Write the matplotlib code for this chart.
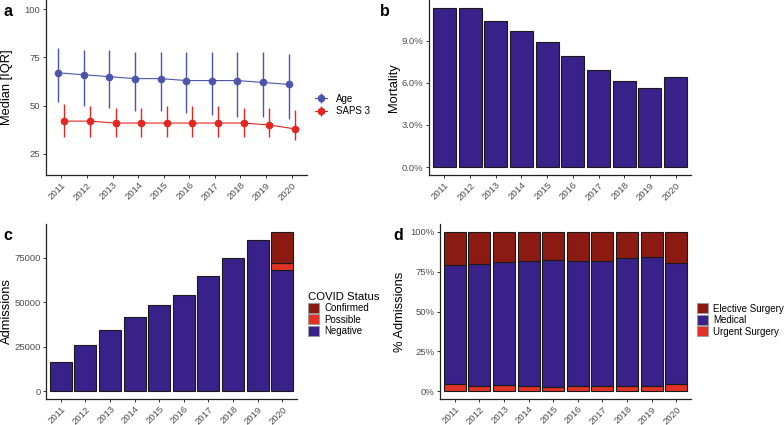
import numpy as np
import matplotlib
matplotlib.use("Agg")
import matplotlib.pyplot as plt
from matplotlib.patches import Patch
from matplotlib.ticker import FuncFormatter

plt.rcParams["font.family"] = ["Liberation Sans", "DejaVu Sans"]

years = [str(y) for y in range(2011, 2021)]

# panel a: medians and IQR
age_med = [67, 66, 65, 64, 64, 63, 63, 63, 62, 61]
age_lo = [52, 50, 49, 47, 47, 46, 45, 44, 44, 43]
age_hi = [80, 79, 79, 78, 78, 78, 78, 78, 78, 77]
saps_med = [42, 42, 41, 41, 41, 41, 41, 41, 40, 38]
saps_lo = [34, 34, 34, 34, 34, 34, 34, 34, 34, 32]
saps_hi = [51, 50, 49, 49, 50, 50, 50, 49, 49, 48]

# panel b: mortality (%)
mortality = [11.35, 11.35, 10.45, 9.74, 8.95, 7.94, 6.89, 6.11, 5.66, 6.44]

# panel c: admissions by covid status
negative = [16450, 26140, 34530, 41800, 48500, 54100, 64900, 75000, 84700, 67950]
possible = [0, 0, 0, 0, 0, 0, 0, 0, 0, 3900]
confirmed = [0, 0, 0, 0, 0, 0, 0, 0, 0, 17550]

# panel d: admission type (%)
urgent = [4.2, 3.1, 3.6, 3.0, 2.4, 3.1, 3.1, 3.1, 3.4, 4.3]
medical_top = [79.3, 79.8, 81.0, 82.0, 82.2, 81.6, 82.0, 83.7, 84.5, 80.4]

c_dark = "#8B1A12"
c_red = "#E03325"
c_navy = "#38228A"
c_age = "#4B55AC"
c_saps = "#E3261F"
tick_col = "#4D4D4D"

W, H = 784, 425
fig = plt.figure(figsize=(W / 100, H / 100), dpi=100)

x = np.arange(1, 11)
fs = 7


def add_ax(l, t, r, b):
    return fig.add_axes([l / W, 1 - b / H, (r - l) / W, (b - t) / H])


def style(ax, ylabel, lab_x, top, bottom):
    for s in ["top", "right"]:
        ax.spines[s].set_visible(False)
    for s in ["left", "bottom"]:
        ax.spines[s].set_linewidth(0.9)
        ax.spines[s].set_color("#222222")
    ax.tick_params(axis="both", labelsize=6.8, colors="#333333", labelcolor=tick_col,
                   length=2.5, width=0.7, pad=1.5)
    ax.set_xticks(x)
    ax.set_xticklabels(years, rotation=45, ha="right", rotation_mode="anchor")
    ax.set_xlim(0.4, 10.6)
    ax.set_ylabel(ylabel, fontsize=9.3, color="black")
    ax.yaxis.set_label_coords(lab_x / W, 1 - (top + bottom) / 2 / H, transform=fig.transFigure)


# ---- a
ax = add_ax(46, 0, 307, 175)
style(ax, "Median [IQR]", 13, 0, 175)
d = 0.12
age_err = [np.array(age_med) - np.array(age_lo), np.array(age_hi) - np.array(age_med)]
saps_err = [np.array(saps_med) - np.array(saps_lo), np.array(saps_hi) - np.array(saps_med)]
h1 = ax.errorbar(x - d, age_med, yerr=age_err, fmt="-o", color=c_age, ms=4.5,
                 lw=0.8, elinewidth=1.0, capsize=0, label="Age")
h2 = ax.errorbar(x + d, saps_med, yerr=saps_err, fmt="-o", color=c_saps, ms=4.5,
                 lw=0.8, elinewidth=1.0, capsize=0, label="SAPS 3")
ax.set_ylim(14.1, 104.7)
ax.set_yticks([25, 50, 75, 100])
fig.legend(handles=[h1, h2], loc="center left", bbox_to_anchor=(306 / W, 1 - 105 / H),
           frameon=False, fontsize=fs, handlelength=1.3, handletextpad=0.9,
           labelspacing=0.3)

# ---- b
ax = add_ax(429, 0, 691, 175)
style(ax, "Mortality", 400, 0, 175)
ax.bar(x, mortality, width=0.9, color=c_navy, edgecolor="#1a1a1a", lw=0.8)
ax.set_ylim(-0.57, 11.92)
ax.set_yticks([0, 3, 6, 9])
ax.yaxis.set_major_formatter(FuncFormatter(lambda v, p: f"{v:.1f}%"))

# ---- c
ax = add_ax(46, 224, 297, 399)
style(ax, "Admissions", 13, 224, 399)
neg = np.array(negative)
pos = np.array(possible)
ax.bar(x, neg, width=0.9, color=c_navy, edgecolor="#1a1a1a", lw=0.8)
ax.bar(x[-1:], pos[-1:], bottom=neg[-1:], width=0.9, color=c_red, edgecolor="#1a1a1a", lw=0.8)
ax.bar(x[-1:], np.array(confirmed)[-1:], bottom=(neg + pos)[-1:], width=0.9,
       color=c_dark, edgecolor="#1a1a1a", lw=0.8)
ax.set_ylim(-4470, 93870)
ax.set_yticks([0, 25000, 50000, 75000])
ax.set_yticklabels(["0", "25000", "50000", "75000"])
hc = [Patch(facecolor=c, edgecolor="#999999", lw=0.6) for c in [c_dark, c_red, c_navy]]
fig.legend(handles=hc, labels=["Confirmed", "Possible", "Negative"], title="COVID Status",
           loc="center left", bbox_to_anchor=(299 / W, 1 - 314 / H), frameon=False,
           fontsize=fs, title_fontsize=8.2, handlelength=1.2, handleheight=1.2,
           handletextpad=0.5, labelspacing=0.12, alignment="left")

# ---- d
ax = add_ax(440, 224, 691, 399)
style(ax, "% Admissions", 406, 224, 399)
urg = np.array(urgent)
med = np.array(medical_top) - urg
ele = 100 - np.array(medical_top)
ax.bar(x, urg, width=0.9, color=c_red, edgecolor="#1a1a1a", lw=0.8)
ax.bar(x, med, bottom=urg, width=0.9, color=c_navy, edgecolor="#1a1a1a", lw=0.8)
ax.bar(x, ele, bottom=urg + med, width=0.9, color=c_dark, edgecolor="#1a1a1a", lw=0.8)
ax.set_ylim(-5, 105)
ax.set_yticks([0, 25, 50, 75, 100])
ax.yaxis.set_major_formatter(FuncFormatter(lambda v, p: f"{v:.0f}%"))
hd = [Patch(facecolor=c, edgecolor="#999999", lw=0.6) for c in [c_dark, c_navy, c_red]]
fig.legend(handles=hd, labels=["Elective Surgery", "Medical", "Urgent Surgery"],
           loc="center left", bbox_to_anchor=(688 / W, 1 - 320 / H), frameon=False,
           fontsize=fs, handlelength=1.2, handleheight=1.2, handletextpad=0.5,
           labelspacing=0.12)

# panel letters
for lab, px, py in [("a", 3, 12), ("b", 380, 12), ("c", 3, 235), ("d", 393, 235)]:
    fig.text(px / W, 1 - py / H, lab, fontsize=11.5, fontweight="bold", va="center")

fig.savefig("out.png", dpi=100)
